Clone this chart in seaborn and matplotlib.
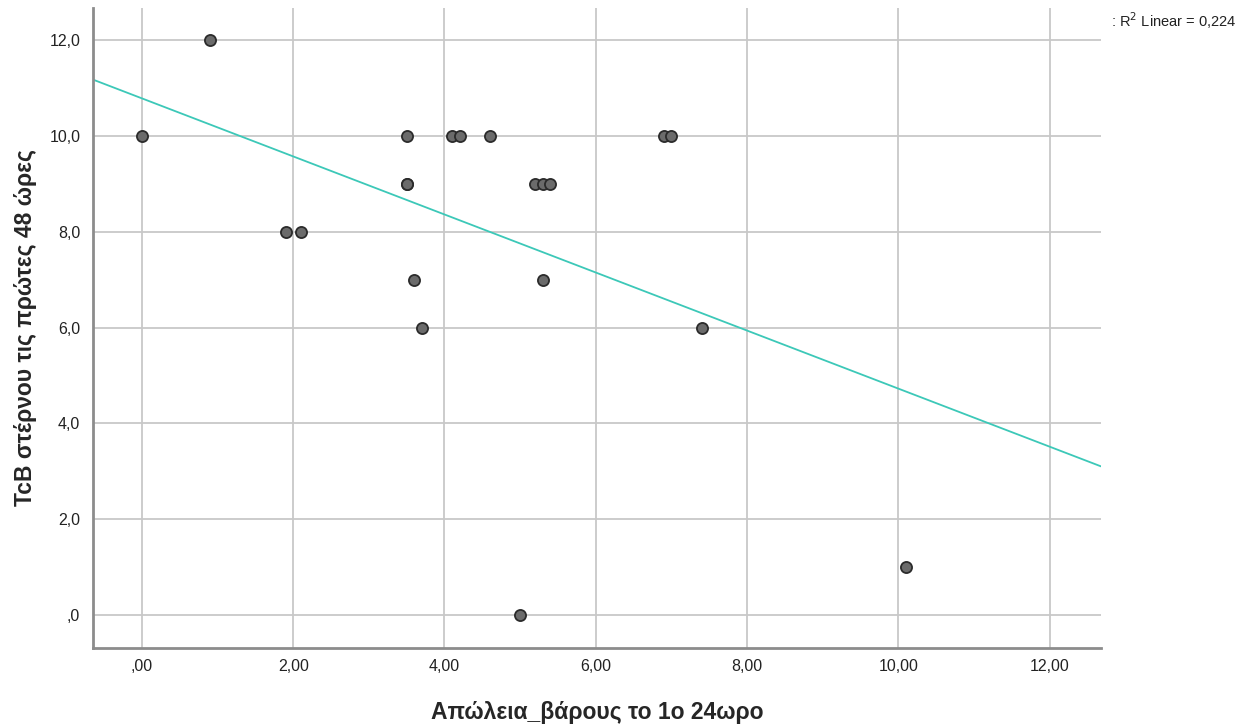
import numpy as np
import pandas as pd
import matplotlib
matplotlib.use("Agg")
import matplotlib.pyplot as plt
import seaborn as sns
from matplotlib.ticker import FuncFormatter

# Weight loss in the first 24h (x) vs TcB sternum in first 48h (y)
weight_loss = [0.0, 0.9, 1.9, 2.1, 3.5, 3.5, 3.5, 3.6, 3.7, 4.1, 4.2, 4.6,
               5.0, 5.2, 5.3, 5.4, 5.3, 6.9, 7.0, 7.4, 10.1]
tcb = [10, 12, 8, 8, 10, 9, 9, 7, 6, 10, 10, 10,
       0, 9, 9, 9, 7, 10, 10, 6, 1]
x_ticks = [0, 2, 4, 6, 8, 10, 12]
y_ticks = [0, 2, 4, 6, 8, 10, 12]

df = pd.DataFrame({"x": weight_loss, "y": tcb})
r2 = np.corrcoef(df["x"], df["y"])[0, 1] ** 2

sns.set_theme(style="whitegrid")
plt.rcParams["font.family"] = ["Liberation Sans", "DejaVu Sans"]

fig = plt.figure(figsize=(12.54, 7.25), dpi=100)
ax = fig.add_axes([0.074, 0.106, 0.804, 0.883])
ax.set_xlim(-0.65, 12.68)
ax.set_ylim(-0.69, 12.67)

sns.regplot(data=df, x="x", y="y", ax=ax, ci=None, truncate=False,
            scatter_kws=dict(s=64, color="#6b6b6b", edgecolor="#2b2b2b",
                             linewidths=1.3, alpha=1, zorder=3),
            line_kws=dict(color="#3cc8b8", lw=1.3, zorder=2))

ax.set_xticks(x_ticks)
ax.set_yticks(y_ticks)
ax.xaxis.set_major_formatter(FuncFormatter(
    lambda v, p: (",00" if v == 0 else f"{v:.2f}".replace(".", ","))))
ax.yaxis.set_major_formatter(FuncFormatter(
    lambda v, p: (",0" if v == 0 else f"{v:.1f}".replace(".", ","))))
ax.tick_params(labelsize=11.5, colors="#222222", length=0)
ax.tick_params(axis="x", pad=8)
ax.tick_params(axis="y", pad=9)

ax.grid(True, color="#c8c8c8", lw=1.3)
for s in ["top", "right"]:
    ax.spines[s].set_visible(False)
for s in ["left", "bottom"]:
    ax.spines[s].set_color("#8c8c8c")
    ax.spines[s].set_linewidth(2)

ax.set_xlabel("Απώλεια_βάρους το 1ο 24ωρο", fontsize=16.5, fontweight="bold")
ax.set_ylabel("TcB στέρνου τις πρώτες 48 ώρες", fontsize=16.5, fontweight="bold")
ax.xaxis.set_label_coords(0.5, -0.1)
ax.yaxis.set_label_coords(-0.067, 0.5)
ax.xaxis.label.set_va("center")
ax.yaxis.label.set_va("center")

fig.text(0.886, 0.963, ": R$^2$ Linear = " + f"{r2:.3f}".replace("0.", "0,"),
         fontsize=10.5, color="#222222")

fig.savefig("out.png", dpi=100)
